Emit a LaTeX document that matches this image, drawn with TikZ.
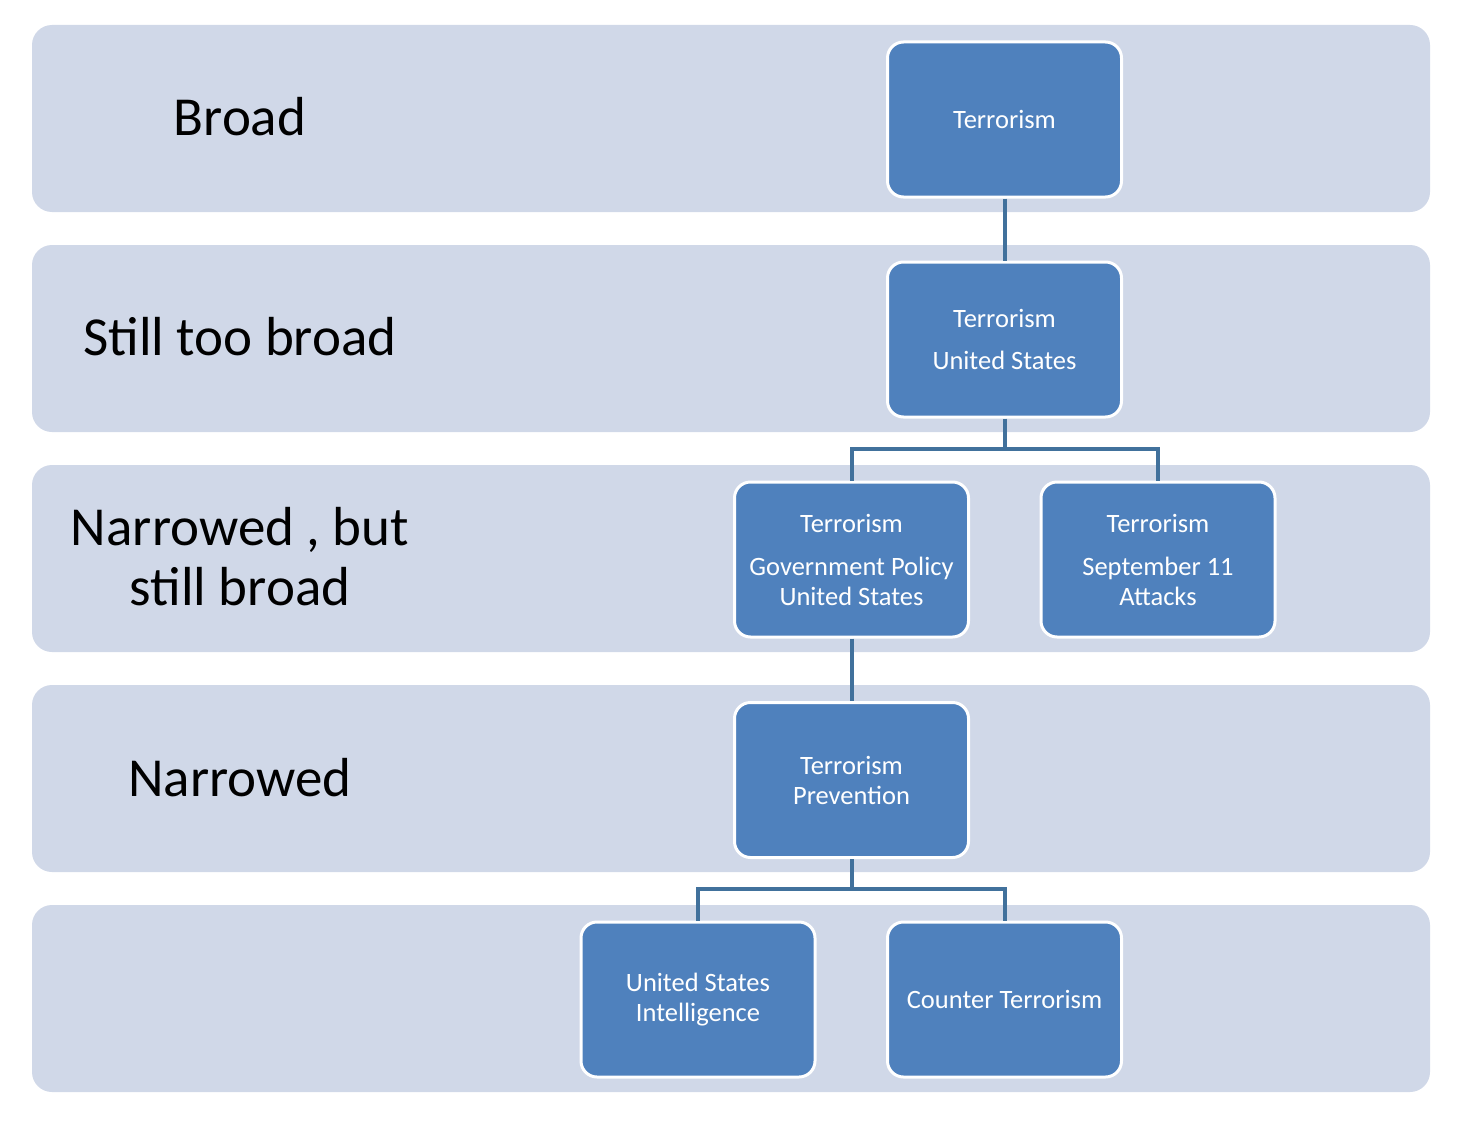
\documentclass[tikz,border=0pt]{standalone}
\usepackage{fontspec}
\setmainfont{Carlito}
\definecolor{bandfill}{HTML}{D0D8E8}
\definecolor{boxblue}{HTML}{4F81BD}
\definecolor{connblue}{HTML}{41719C}
\begin{document}
\begin{tikzpicture}[x=1pt,y=-1pt,
  band/.style={rectangle, rounded corners=20pt, fill=bandfill, draw=none, minimum width=1398pt, minimum height=187pt, inner sep=0pt},
  topic/.style={rectangle, rounded corners=16pt, fill=boxblue, draw=white, line width=3pt, minimum width=234pt, minimum height=155pt, inner sep=4pt, text=white, align=center, font=\fontsize{26.5}{30}\selectfont},
  lvl/.style={text=black, align=center, font=\fontsize{55}{60}\selectfont, inner sep=0pt},
  conn/.style={draw=connblue, line width=4pt}]
\useasboundingbox (0,0) rectangle (1472,1124);
\fill[white] (0,0) rectangle (1472,1124);
% bands
\node[band] (b1) at (731,118.5) {};
\node[band] (b2) at (731,338.5) {};
\node[band] (b3) at (731,558.5) {};
\node[band] (b4) at (731,778.5) {};
\node[band] (b5) at (731,998.5) {};
% level labels
\node[lvl] (l1) at (240,117) {Broad};
\node[lvl] (l2) at (240,337) {Still too broad};
\node[lvl] (l3) at (240,557) {Narrowed , but\\still broad};
\node[lvl] (l4) at (240,778) {Narrowed};
% boxes
\node[topic] (t1) at (1004.5,119.5) {Terrorism};
\node[topic] (t2) at (1004.5,339.5) {Terrorism\\[12pt]United States};
\node[topic] (gov) at (851.5,559.5) {Terrorism\\[13pt]Government Policy\\United States};
\node[topic] (sep) at (1158,559.5) {Terrorism\\[13pt]September 11\\Attacks};
\node[topic] (prev) at (851.5,780) {Terrorism\\Prevention};
\node[topic] (usi) at (698,999.5) {United States\\Intelligence};
\node[topic] (ct) at (1004.5,999.5) {Counter Terrorism};
% connectors
\coordinate (j1) at (1004.5,449);
\coordinate (j2) at (851.5,889);
\draw[conn] (t1.south) -- (t2.north);
\draw[conn] (t2.south) -- (j1) -| (gov.north);
\draw[conn] (j1) -| (sep.north);
\draw[conn] (gov.south) -- (prev.north);
\draw[conn] (prev.south) -- (j2) -| (usi.north);
\draw[conn] (j2) -| (ct.north);
\end{tikzpicture}
\end{document}
